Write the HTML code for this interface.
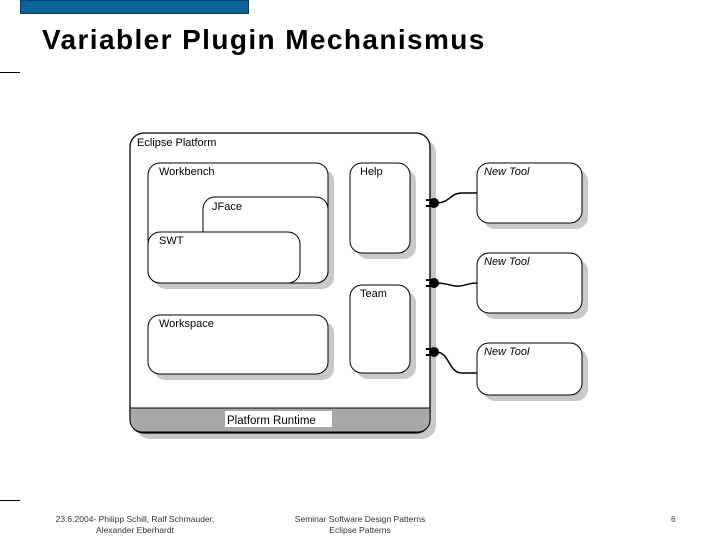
<!DOCTYPE html>
<html><head><meta charset="utf-8"><style>
body{margin:0;width:720px;height:540px;background:#fff;overflow:hidden;position:relative;font-family:"Liberation Sans",sans-serif}
.t{position:absolute}
</style></head><body>
<div class="t" style="left:20px;top:0;width:229px;height:14px;background:#0a6399;border:1px solid #0a3a5a;box-sizing:border-box"></div>
<div class="t" style="left:42px;top:24px;font-size:28px;font-weight:bold;color:#000;letter-spacing:1.4px">Variabler Plugin Mechanismus</div>
<div class="t" style="left:0;top:72px;width:20px;height:1px;background:#000"></div>
<div class="t" style="left:0;top:500px;width:20px;height:1px;background:#000"></div>
<svg class="t" style="left:0;top:0" width="720" height="540" font-family="Liberation Sans, sans-serif" font-size="11">
<g fill="#c8c8c8">
<rect x="136" y="139" width="300" height="300" rx="14"/>
<rect x="483" y="169" width="105" height="60" rx="12"/>
<rect x="483" y="259" width="105" height="60" rx="12"/>
<rect x="483" y="349" width="105" height="52" rx="12"/>
</g>
<rect x="130" y="133" width="300" height="300" rx="14" fill="#fff" stroke="#000" stroke-width="1.3"/>
<path d="M130 408 H430 V420 a12 12 0 0 1 -12 12 H142 a12 12 0 0 1 -12 -12 Z" fill="#a8a8a8" stroke="#000"/>
<rect x="225" y="411" width="107" height="16" fill="#fff"/>
<text x="227" y="424" font-size="11.5">Platform Runtime</text>
<text x="137" y="146" font-size="11">Eclipse Platform</text>
<g fill="#c8c8c8">
<rect x="154" y="169" width="180" height="120" rx="12"/>
<rect x="154" y="321" width="180" height="59" rx="12"/>
<rect x="356" y="169" width="60" height="90" rx="12"/>
<rect x="356" y="291" width="60" height="88" rx="12"/>
</g>
<g fill="#fff" stroke="#000" stroke-width="1">
<rect x="148" y="163" width="180" height="120" rx="12"/>
<rect x="203" y="197" width="125" height="86" rx="12"/>
<rect x="148" y="232" width="152" height="51" rx="12"/>
<rect x="148" y="315" width="180" height="59" rx="12"/>
<rect x="350" y="163" width="60" height="90" rx="12"/>
<rect x="350" y="285" width="60" height="88" rx="12"/>
<rect x="477" y="163" width="105" height="60" rx="12"/>
<rect x="477" y="253" width="105" height="60" rx="12"/>
<rect x="477" y="343" width="105" height="52" rx="12"/>
</g>
<text x="159" y="175">Workbench</text>
<text x="212" y="210">JFace</text>
<text x="159" y="244">SWT</text>
<text x="159" y="327">Workspace</text>
<text x="360" y="175">Help</text>
<text x="360" y="297">Team</text>
<g font-style="italic"><text x="484" y="175">New Tool</text><text x="484" y="265">New Tool</text><text x="484" y="355">New Tool</text></g>
<g stroke="#000" stroke-width="1.5" fill="none">
<path d="M436 203 C450 203 450 193 462 193 H477"/>
<path d="M436 283 C450 283 450 287 460 286 C468 285 468 283 477 283"/>
<path d="M436 352 C450 352 448 373 462 373 H477"/>
</g>
<g fill="#000">
<circle cx="434" cy="203" r="5"/><rect x="426" y="199" width="6" height="2"/><rect x="426" y="205" width="6" height="2"/>
<circle cx="434" cy="283" r="5"/><rect x="426" y="279" width="6" height="2"/><rect x="426" y="285" width="6" height="2"/>
<circle cx="434" cy="352" r="5"/><rect x="426" y="348" width="6" height="2"/><rect x="426" y="354" width="6" height="2"/>
</g>
</svg>
<div class="t" style="left:30px;top:514px;width:210px;text-align:center;font-size:8.5px;line-height:11px;color:#333">23.6.2004- Philipp Schill, Ralf Schmauder,<br>Alexander Eberhardt</div>
<div class="t" style="left:270px;top:514px;width:180px;text-align:center;font-size:8.5px;line-height:11px;color:#333">Seminar Software Design Patterns<br>Eclipse Patterns</div>
<div class="t" style="left:671px;top:514px;font-size:8.5px;color:#333">6</div>
</body></html>
